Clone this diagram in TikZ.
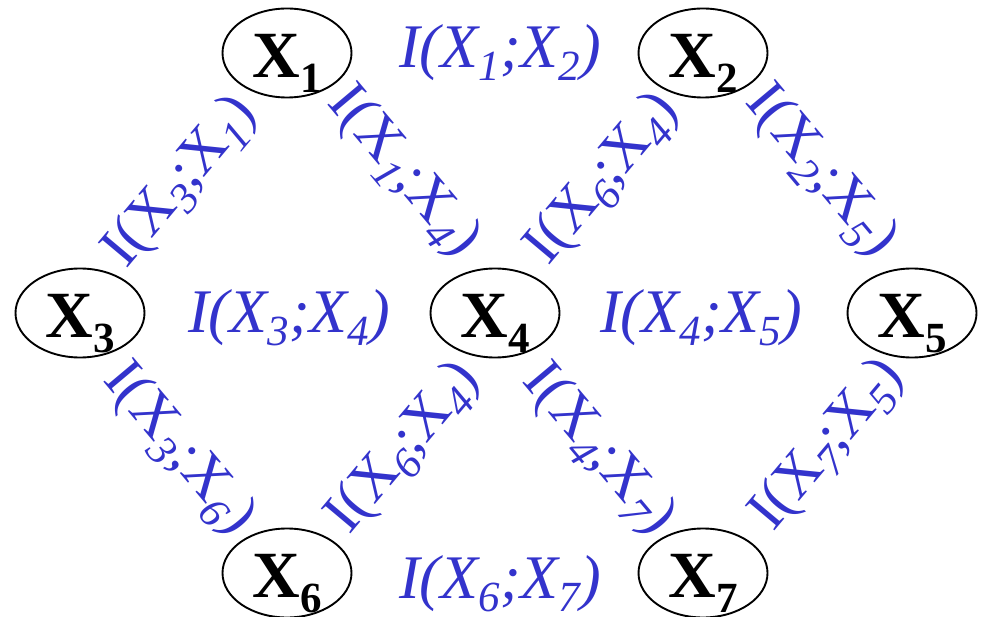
\documentclass[tikz,border=0pt]{standalone}
\usepackage{fontspec}
\setmainfont{Liberation Serif}
\usetikzlibrary{shapes.geometric}
\definecolor{lblue}{RGB}{51,51,204}
\newcommand{\nx}[1]{{\fontsize{66}{66}\selectfont\bfseries X\raisebox{-15pt}{\fontsize{43}{43}\selectfont #1}}}
\newcommand{\hsub}[1]{\raisebox{-13pt}{\fontsize{43}{43}\selectfont\itshape #1}}
\newcommand{\hlab}[2]{{\fontsize{62}{62}\selectfont\itshape I(X\hsub{#1};X\hsub{#2})}}
\newcommand{\dlab}[2]{{\fontsize{59}{59}\selectfont I(X\hsub{#1};X\hsub{#2})}}
\begin{document}
\begin{tikzpicture}[x=1pt,y=-1pt,
  varnode/.style={draw, ellipse, line width=1.9pt, minimum width=129pt, minimum height=89pt, inner sep=0pt, text height=49pt, text depth=0pt},
  hlabel/.style={text=lblue, anchor=base, inner sep=0pt},
  dlabel/.style={text=lblue, anchor=center, inner sep=0pt}]
\useasboundingbox (0,0) rectangle (981,617);
\node[varnode] (x1) at (287,53) {\nx{1}};
\node[varnode] (x2) at (703,53) {\nx{2}};
\node[varnode] (x3) at (80,313) {\nx{3}};
\node[varnode] (x4) at (495,313) {\nx{4}};
\node[varnode] (x5) at (912,313) {\nx{5}};
\node[varnode] (x6) at (287,573) {\nx{6}};
\node[varnode] (x7) at (703,573) {\nx{7}};
\node[hlabel] (l12) at (500,68) {\hlab{1}{2}};
\node[hlabel] (l34) at (289,332) {\hlab{3}{4}};
\node[hlabel] (l45) at (701,332) {\hlab{4}{5}};
\node[hlabel] (l67) at (500,598) {\hlab{6}{7}};
\node[dlabel, rotate=50] (l31) at (181,183) {\dlab{3}{1}};
\node[dlabel, rotate=-50] (l14) at (403,172) {\dlab{1}{4}};
\node[dlabel, rotate=50] (l64a) at (603,180) {\dlab{6}{4}};
\node[dlabel, rotate=-50] (l25) at (820,172) {\dlab{2}{5}};
\node[dlabel, rotate=-50] (l36) at (178,450) {\dlab{3}{6}};
\node[dlabel, rotate=50] (l64b) at (404,449) {\dlab{6}{4}};
\node[dlabel, rotate=-50] (l47) at (598,450) {\dlab{4}{7}};
\node[dlabel, rotate=50] (l75) at (828,446) {\dlab{7}{5}};
\end{tikzpicture}
\end{document}
